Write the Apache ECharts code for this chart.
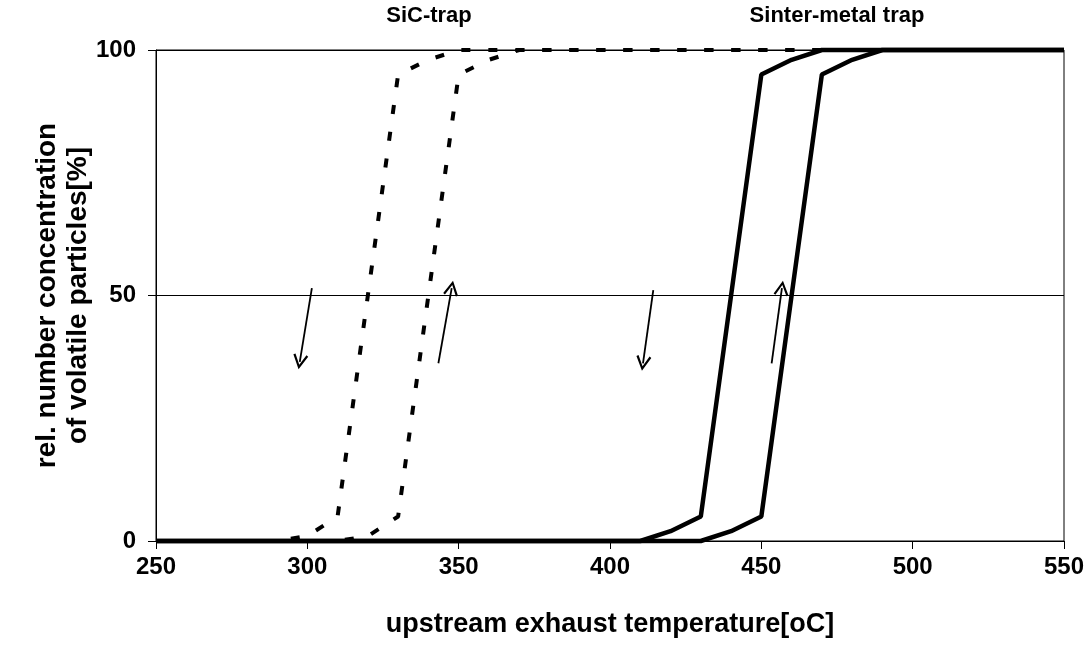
<!DOCTYPE html>
<html>
<head>
<meta charset="utf-8">
<script src="https://cdn.jsdelivr.net/npm/echarts@6/dist/echarts.min.js"></script>
<style>
html,body{margin:0;padding:0;background:#fff;}
#chart{width:1088px;height:646px;}
</style>
</head>
<body>
<div id="chart"></div>
<script>
// temperature [°C], relative number concentration [%]
const sicCoolingT = [250, 290, 300, 310, 330, 340, 350, 550];
const sicCoolingV = [0, 0, 1, 5, 95, 98, 100, 100];
const sicHeatingT = [250, 310, 320, 330, 350, 360, 370, 550];
const sicHeatingV = [0, 0, 1, 5, 95, 98, 100, 100];
const metalCoolingT = [250, 410, 420, 430, 450, 460, 470, 550];
const metalCoolingV = [0, 0, 2, 5, 95, 98, 100, 100];
const metalHeatingT = [250, 430, 440, 450, 470, 480, 490, 550];
const metalHeatingV = [0, 0, 2, 5, 95, 98, 100, 100];
// direction arrows: [from, to] in data units
const arrowFrom = [[301.5, 51.5], [343.3, 36.2], [414.3, 51.1], [453.4, 36.2]];
const arrowTo   = [[297.5, 36.5], [347.7, 51.5], [410.9, 36.2], [456.8, 51.5]];
const xTicks = [250, 300, 350, 400, 450, 500, 550];
const yTicks = [0, 50, 100];
const labels = ['SiC-trap', 'Sinter-metal trap'];

function zip(a, b) { return a.map((v, i) => [v, b[i]]); }

const FONT = '"Liberation Sans", Arial, sans-serif';
const chevron = 'path://M0,0 L7,12 L5.2,13 L0,3.8 L-5.2,13 L-7,12 Z';

const chart = echarts.init(document.getElementById('chart'), null, {renderer: 'canvas'});
const option = {
  animation: false,
  backgroundColor: '#fff',
  title: [
    {text: labels[0], left: 424, top: 0, textAlign: 'center',
     textStyle: {fontFamily: FONT, fontWeight: 'bold', fontSize: 22, color: '#000'}},
    {text: labels[1], left: 832, top: 0, textAlign: 'center',
     textStyle: {fontFamily: FONT, fontWeight: 'bold', fontSize: 22, color: '#000'}}
  ],
  grid: {left: 156, right: 24, top: 50, bottom: 105, show: true, borderColor: '#000', borderWidth: 1},
  xAxis: {
    type: 'value', min: xTicks[0], max: xTicks[xTicks.length - 1], interval: 50,
    name: 'upstream exhaust temperature[oC]', nameLocation: 'middle', nameGap: 70,
    nameMoveOverlap: false,
    nameTextStyle: {fontFamily: FONT, fontWeight: 'bold', fontSize: 27, color: '#000'},
    axisLine: {show: true, lineStyle: {color: '#000', width: 1}},
    axisTick: {show: true, length: 8, lineStyle: {color: '#000'}},
    axisLabel: {margin: 14, fontFamily: FONT, fontWeight: 'bold', fontSize: 24, color: '#000'},
    splitLine: {show: false}
  },
  yAxis: {
    type: 'value', min: yTicks[0], max: yTicks[yTicks.length - 1], interval: 50,
    name: 'rel. number concentration\nof volatile particles[%]', nameLocation: 'middle', nameGap: 62,
    nameRotate: 90, nameMoveOverlap: false,
    nameTextStyle: {fontFamily: FONT, fontWeight: 'bold', fontSize: 28, color: '#000', lineHeight: 31, align: 'center'},
    axisLine: {show: true, lineStyle: {color: '#000', width: 1}},
    axisTick: {show: true, length: 8, lineStyle: {color: '#000'}},
    axisLabel: {margin: 20, fontFamily: FONT, fontWeight: 'bold', fontSize: 24, color: '#000'},
    splitLine: {show: true, lineStyle: {color: '#000', width: 1}}
  },
  series: [
    {name: 'SiC cooling', type: 'line', data: zip(sicCoolingT, sicCoolingV), showSymbol: false, clip: false,
     lineStyle: {color: '#000', width: 4, type: [9, 18]}},
    {name: 'SiC heating', type: 'line', data: zip(sicHeatingT, sicHeatingV), showSymbol: false, clip: false,
     lineStyle: {color: '#000', width: 4, type: [9, 18]}},
    {name: 'Metal cooling', type: 'line', data: zip(metalCoolingT, metalCoolingV), showSymbol: false, clip: false,
     lineStyle: {color: '#000', width: 4.5, type: 'solid'}},
    {name: 'Metal heating', type: 'line', data: zip(metalHeatingT, metalHeatingV), showSymbol: false, clip: false,
     lineStyle: {color: '#000', width: 4.5, type: 'solid'}},
    {name: 'arrows', type: 'line', data: [], showSymbol: false,
     markLine: {
       silent: true, animation: false,
       symbol: ['none', chevron], symbolSize: 15,
       label: {show: false},
       lineStyle: {color: '#000', width: 1.8, type: 'solid'},
       emphasis: {disabled: true},
       data: arrowFrom.map((f, i) => [{coord: f}, {coord: arrowTo[i]}])
     }}
  ]
};
chart.setOption(option);
</script>
</body>
</html>
